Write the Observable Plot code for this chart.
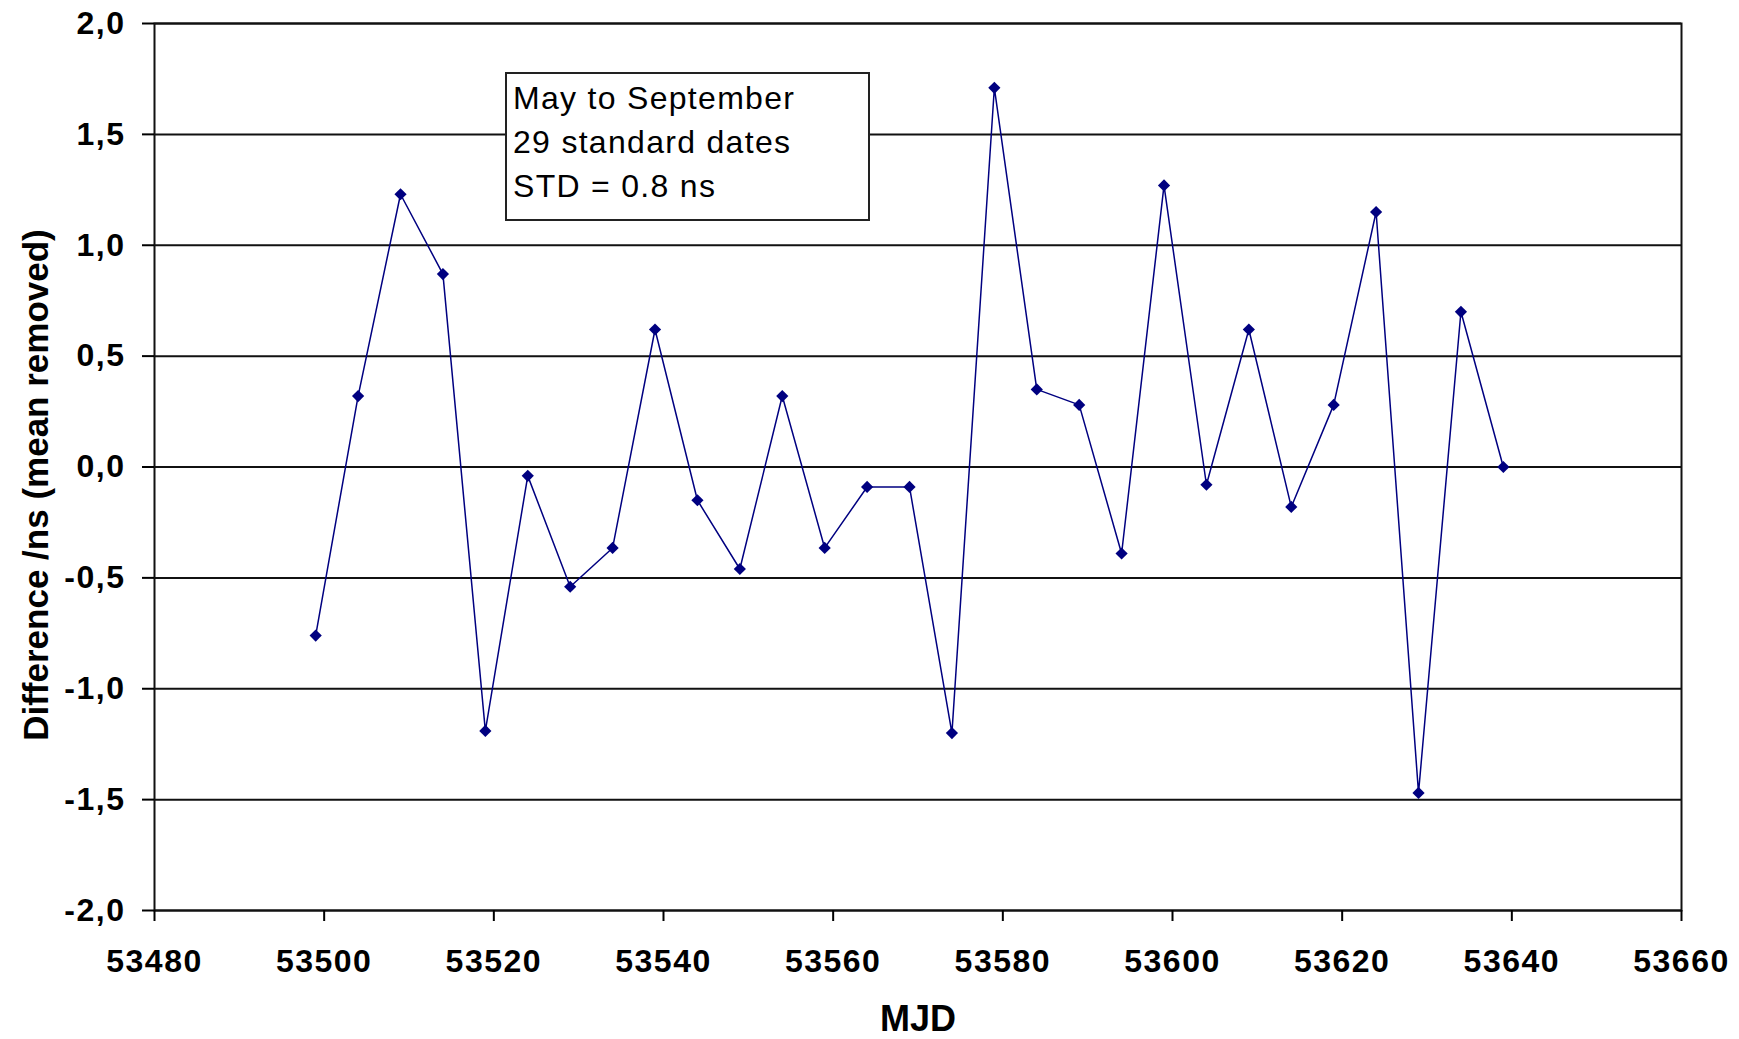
<!DOCTYPE html>
<html>
<head>
<meta charset="utf-8">
<script src="https://cdn.jsdelivr.net/npm/d3@7"></script>
<script src="https://cdn.jsdelivr.net/npm/@observablehq/plot@0.6"></script>
<style>
  html, body { margin: 0; padding: 0; background: #fff; }
  #wrap { position: relative; width: 1739px; height: 1039px; font-family: "Liberation Sans", Arial, sans-serif; }
  #note {
    position: absolute; left: 505px; top: 72px; width: 355px; height: 143px;
    border: 2px solid #222; background: #fff; box-sizing: content-box;
    padding: 2px 0 0 6px; margin: 0;
    font-size: 32px; line-height: 44px; color: #000; letter-spacing: 1.3px;
  }
  #note div { white-space: nowrap; }
  g[aria-label="x-axis tick label"] text, g[aria-label="y-axis tick label"] text { letter-spacing: 1.5px; }
</style>
</head>
<body>
<div id="wrap"></div>
<script>
// Data
const mjd = [53499, 53504, 53509, 53514, 53519, 53524, 53529, 53534, 53539, 53544,
             53549, 53554, 53559, 53564, 53569, 53574, 53579, 53584, 53589, 53594,
             53599, 53604, 53609, 53614, 53619, 53624, 53629, 53634, 53639];
const diff = [-0.76, 0.32, 1.23, 0.87, -1.19, -0.04, -0.54, -0.365, 0.62, -0.15,
              -0.46, 0.32, -0.365, -0.09, -0.09, -1.20, 1.71, 0.35, 0.28, -0.39,
              1.27, -0.08, 0.62, -0.18, 0.28, 1.15, -1.47, 0.70, 0.00];
const xTicks = [53480, 53500, 53520, 53540, 53560, 53580, 53600, 53620, 53640, 53660];
const yTicks = [-2.0, -1.5, -1.0, -0.5, 0.0, 0.5, 1.0, 1.5, 2.0];
const noteLines = ["May to September", "29 standard dates", "STD = 0.8 ns"];
const xTitle = "MJD";
const yTitle = "Difference /ns (mean removed)";

const data = mjd.map((m, i) => ({mjd: m, diff: diff[i]}));
const fmtY = d => d.toFixed(1).replace(".", ",");

const chart = Plot.plot({
  width: 1739,
  height: 1039,
  marginLeft: 154,
  marginRight: 58,
  marginTop: 23,
  marginBottom: 129,
  style: {fontFamily: "'Liberation Sans', Arial, sans-serif", background: "#fff", color: "#000"},
  x: {domain: [53480, 53660]},
  y: {domain: [-2, 2]},
  marks: [
    Plot.gridY(yTicks, {stroke: "#111", strokeOpacity: 1, strokeWidth: 2}),
    Plot.frame({stroke: "#111", strokeWidth: 2}),
    Plot.axisY({ticks: yTicks, tickFormat: fmtY, tickSize: 12, tickPadding: 17, fontSize: 32, fontWeight: "bold", strokeWidth: 2, label: null}),
    Plot.axisX({ticks: xTicks, tickFormat: d => String(d), tickSize: 11, tickPadding: 28, fontSize: 32, fontWeight: "bold", strokeWidth: 2, label: null}),
    Plot.line(data, {x: "mjd", y: "diff", stroke: "#000080", strokeWidth: 1.5}),
    Plot.dot(data, {x: "mjd", y: "diff", symbol: "diamond2", r: 5.5, fill: "#000080", stroke: "none"}),
    Plot.text([xTitle], {frameAnchor: "bottom", dy: 109, fontSize: 36, fontWeight: "bold", lineAnchor: "middle", fill: "#000"}),
    Plot.text([yTitle], {frameAnchor: "left", dx: -118, dy: 18, rotate: -90, fontSize: 35, fontWeight: "bold", textAnchor: "middle", lineAnchor: "middle", fill: "#000"})
  ]
});

const wrap = document.getElementById("wrap");
wrap.appendChild(chart);
const note = document.createElement("div");
note.id = "note";
for (const t of noteLines) {
  const d = document.createElement("div");
  d.textContent = t;
  note.appendChild(d);
}
wrap.appendChild(note);
</script>
</body>
</html>
